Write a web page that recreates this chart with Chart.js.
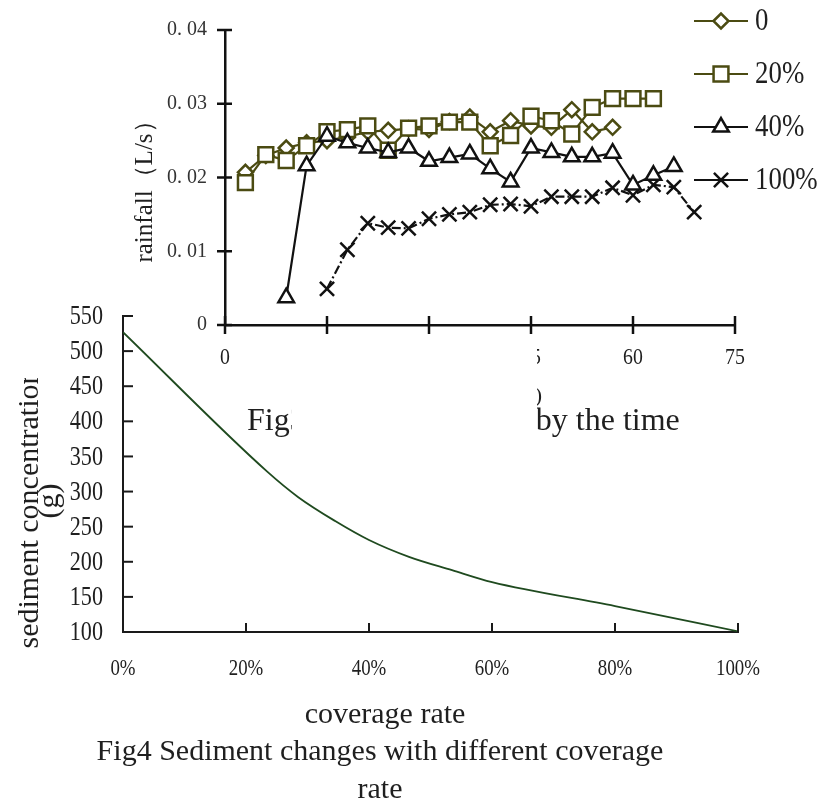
<!DOCTYPE html>
<html>
<head>
<meta charset="utf-8">
<script src="https://cdn.jsdelivr.net/npm/chart.js"></script>
<style>
  html, body { margin: 0; padding: 0; background: #fff; }
  #wrap { position: relative; width: 824px; height: 803px; }
  canvas { position: absolute; left: 0; top: 0; }
</style>
</head>
<body>
<div id="wrap">
  <canvas id="rainChart" width="824" height="803"></canvas>
  <canvas id="sedChart" width="824" height="803"></canvas>
</div>
<script>
// Fig3: rainfall (L/s) against time (min), one series per coverage rate
const legendNames = ['0', '20%', '40%', '100%'];

const time0 = [3, 6, 9, 12, 15, 18, 21, 24, 27, 30, 33, 36, 39, 42, 45, 48, 51, 54, 57];
const rain0 = [0.0207, 0.0230, 0.0240, 0.0247, 0.0250, 0.0255, 0.0262, 0.0264, 0.0266, 0.0265,
               0.0276, 0.0282, 0.0262, 0.0277, 0.0270, 0.0268, 0.0292, 0.0262, 0.0268];

const time20 = [3, 6, 9, 12, 15, 18, 21, 24, 27, 30, 33, 36, 39, 42, 45, 48, 51, 54, 57, 60, 63];
const rain20 = [0.0193, 0.0231, 0.0223, 0.0243, 0.0262, 0.0265, 0.0270, 0.0237, 0.0267, 0.0270,
                0.0275, 0.0275, 0.0243, 0.0257, 0.0283, 0.0277, 0.0259, 0.0295, 0.0307, 0.0307, 0.0307];

const time40 = [9, 12, 15, 18, 21, 24, 27, 30, 33, 36, 39, 42, 45, 48, 51, 54, 57, 60, 63, 66];
const rain40 = [0.0037, 0.0216, 0.0256, 0.0247, 0.0240, 0.0234, 0.0240, 0.0222, 0.0227, 0.0232,
                0.0212, 0.0194, 0.0240, 0.0234, 0.0228, 0.0228, 0.0233, 0.0190, 0.0203, 0.0215];

const time100 = [15, 18, 21, 24, 27, 30, 33, 36, 39, 42, 45, 48, 51, 54, 57, 60, 63, 66, 69];
const rain100 = [0.0049, 0.0102, 0.0138, 0.0132, 0.0131, 0.0144, 0.0150, 0.0153, 0.0163, 0.0164,
                 0.0161, 0.0174, 0.0174, 0.0174, 0.0186, 0.0176, 0.0190, 0.0187, 0.0153];

// Fig4: sediment concentration (g) against coverage rate (%)
const coverage = [0, 23.5, 28.5, 34.5, 40, 46.5, 53.5, 60, 80, 100];
const sediment = [527, 328, 292, 258, 231, 207, 188, 171, 137, 101];

const olive = '#4b4b12';
const ink = '#111';
const serif = '"Liberation Serif", "Times New Roman", serif';

Chart.defaults.font.family = serif;
Chart.defaults.color = '#2a2a2a';

function pairs(xs, ys) {
  return xs.map((x, i) => ({ x: x, y: ys[i] }));
}

// sx squeezes the text sideways, the labels in the original are narrow
function drawText(ctx, text, x, y, size, rot, align, sx) {
  ctx.save();
  ctx.translate(x, y);
  if (rot) ctx.rotate(rot);
  if (sx) ctx.scale(sx, 1);
  ctx.font = size + 'px ' + serif;
  ctx.fillStyle = '#1f1f1f';
  ctx.textAlign = align || 'center';
  ctx.textBaseline = 'middle';
  ctx.fillText(text, 0, 0);
  ctx.restore();
}

const rainDecor = {
  id: 'rainDecor',
  afterDraw(chart) {
    const { ctx, chartArea: a } = chart;
    const xs = chart.scales.x, ys = chart.scales.y;
    ctx.save();
    ctx.strokeStyle = ink;
    ctx.lineWidth = 2.5;
    ys.ticks.forEach(t => {
      const py = ys.getPixelForValue(t.value);
      ctx.beginPath(); ctx.moveTo(a.left - 8, py); ctx.lineTo(a.left + 7, py); ctx.stroke();
    });
    xs.ticks.forEach(t => {
      const px = xs.getPixelForValue(t.value);
      ctx.beginPath(); ctx.moveTo(px, a.bottom - 9); ctx.lineTo(px, a.bottom + 9); ctx.stroke();
    });
    ctx.restore();
    xs.ticks.forEach(t => {
      drawText(ctx, t.label, xs.getPixelForValue(t.value), a.bottom + 33, 23, 0, 'center', 0.86);
    });

    drawText(ctx, 'rainfall（L/s）', a.left - 80, (a.top + a.bottom) / 2 + 8, 25, -Math.PI / 2);
    drawText(ctx, 'time (min)', a.left + 317, a.bottom + 71, 22, 0, 'right');
    drawText(ctx, 'Fig3 Rainfall changes by the time', a.left + 22, a.bottom + 97, 32, 0, 'left');

    // legend on the right: line + marker + name
    chart.data.datasets.forEach((ds, i) => {
      const ly = 21 + i * 53;
      ctx.save();
      ctx.strokeStyle = ds.borderColor;
      ctx.lineWidth = 2.2;
      ctx.beginPath(); ctx.moveTo(694, ly); ctx.lineTo(748, ly); ctx.stroke();
      ctx.fillStyle = '#fff';
      ctx.lineWidth = ds.pointBorderWidth;
      Chart.helpers.drawPoint(ctx, {
        pointStyle: ds.pointStyle, radius: ds.pointRadius, rotation: 0, borderWidth: ds.pointBorderWidth
      }, 721, ly);
      ctx.restore();
      drawText(ctx, ds.label, 755, ly + 1, 32, 0, 'left', 0.84);
    });
  }
};

function lineSet(label, xs, ys, color, style, radius, order, dash) {
  return {
    label: label,
    data: pairs(xs, ys),
    borderColor: color,
    borderWidth: 2.2,
    borderDash: dash || [],
    pointStyle: style,
    pointRadius: radius,
    pointHoverRadius: radius,
    pointBorderColor: color,
    pointBackgroundColor: '#fff',
    pointBorderWidth: 2.5,
    tension: 0,
    order: order
  };
}

new Chart(document.getElementById('rainChart').getContext('2d'), {
  type: 'line',
  data: {
    datasets: [
      lineSet(legendNames[0], time0, rain0, olive, 'rectRot', 7.5, 2),
      lineSet(legendNames[1], time20, rain20, olive, 'rect', 10.5, 1),
      lineSet(legendNames[2], time40, rain40, ink, 'triangle', 9, 0),
      lineSet(legendNames[3], time100, rain100, ink, 'crossRot', 10, 3, [9, 3, 2, 3])
    ]
  },
  options: {
    responsive: false,
    animation: false,
    layout: { padding: { top: 25, left: 0, right: 89, bottom: 418 } },
    plugins: { legend: { display: false }, tooltip: { enabled: false } },
    scales: {
      x: {
        type: 'linear', min: 0, max: 75,
        afterFit(s) { s.height = 60; },
        grid: { display: false, drawTicks: false },
        border: { display: true, color: ink, width: 2.5 },
        ticks: { stepSize: 15, display: false }
      },
      y: {
        min: 0, max: 0.04,
        afterFit(s) { s.width = 225; },
        grid: { display: false, drawTicks: false },
        border: { display: true, color: ink, width: 2.5 },
        ticks: {
          stepSize: 0.01, padding: 18, font: { size: 20 }, color: '#333',
          callback: v => v === 0 ? '0' : v.toFixed(2).replace('.', '. ')
        }
      }
    }
  },
  plugins: [rainDecor]
});

const sedDecor = {
  id: 'sedDecor',
  beforeDraw(chart) {
    // the blank patch of Fig4 that hides part of Fig3's axis text
    const ctx = chart.ctx;
    ctx.save();
    ctx.fillStyle = '#fff';
    ctx.fillRect(292, 349, 245, 96);
    ctx.restore();
  },
  afterDraw(chart) {
    const { ctx, chartArea: a } = chart;
    const xs = chart.scales.x, ys = chart.scales.y;
    ctx.save();
    ctx.strokeStyle = '#1a1a1a';
    ctx.lineWidth = 2;
    ys.ticks.forEach(t => {
      const py = ys.getPixelForValue(t.value);
      ctx.beginPath(); ctx.moveTo(a.left, py); ctx.lineTo(a.left + 10, py); ctx.stroke();
    });
    xs.ticks.forEach(t => {
      const px = xs.getPixelForValue(t.value);
      ctx.beginPath(); ctx.moveTo(px, a.bottom); ctx.lineTo(px, a.bottom - 9); ctx.stroke();
    });
    ctx.restore();
    ys.ticks.forEach(t => {
      drawText(ctx, t.label, a.left - 20, ys.getPixelForValue(t.value) + 1, 27, 0, 'right', 0.82);
    });
    xs.ticks.forEach(t => {
      drawText(ctx, t.label, xs.getPixelForValue(t.value), a.bottom + 37, 23, 0, 'center', 0.82);
    });

    // y title, its top end is cut off in the original
    ctx.save();
    ctx.beginPath();
    ctx.rect(0, 378, 70, 400);
    ctx.clip();
    drawText(ctx, 'sediment concentration', 30, 509, 30, -Math.PI / 2);
    ctx.restore();
    drawText(ctx, '(g)', 50, 501, 30, -Math.PI / 2);

    drawText(ctx, 'coverage rate', 385, 715, 30);
    drawText(ctx, 'Fig4 Sediment changes with different coverage', 380, 752, 30);
    drawText(ctx, 'rate', 380, 790, 30);
  }
};

new Chart(document.getElementById('sedChart').getContext('2d'), {
  type: 'line',
  data: {
    datasets: [{
      label: 'sediment',
      data: pairs(coverage, sediment),
      borderColor: '#1f4a1f',
      borderWidth: 1.8,
      pointRadius: 0,
      cubicInterpolationMode: 'monotone'
    }]
  },
  options: {
    responsive: false,
    animation: false,
    layout: { padding: { top: 316, left: 0, right: 86, bottom: 111 } },
    plugins: { legend: { display: false }, tooltip: { enabled: false } },
    scales: {
      x: {
        type: 'linear', min: 0, max: 100,
        afterFit(s) { s.height = 60; },
        grid: { display: false, drawTicks: false },
        border: { display: true, color: '#1a1a1a', width: 2 },
        ticks: { stepSize: 20, display: false, callback: v => v + '%' }
      },
      y: {
        min: 100, max: 550,
        afterFit(s) { s.width = 123; },
        grid: { display: false, drawTicks: false },
        border: { display: true, color: '#1a1a1a', width: 2 },
        ticks: { stepSize: 50, display: false }
      }
    }
  },
  plugins: [sedDecor]
});
</script>
</body>
</html>
